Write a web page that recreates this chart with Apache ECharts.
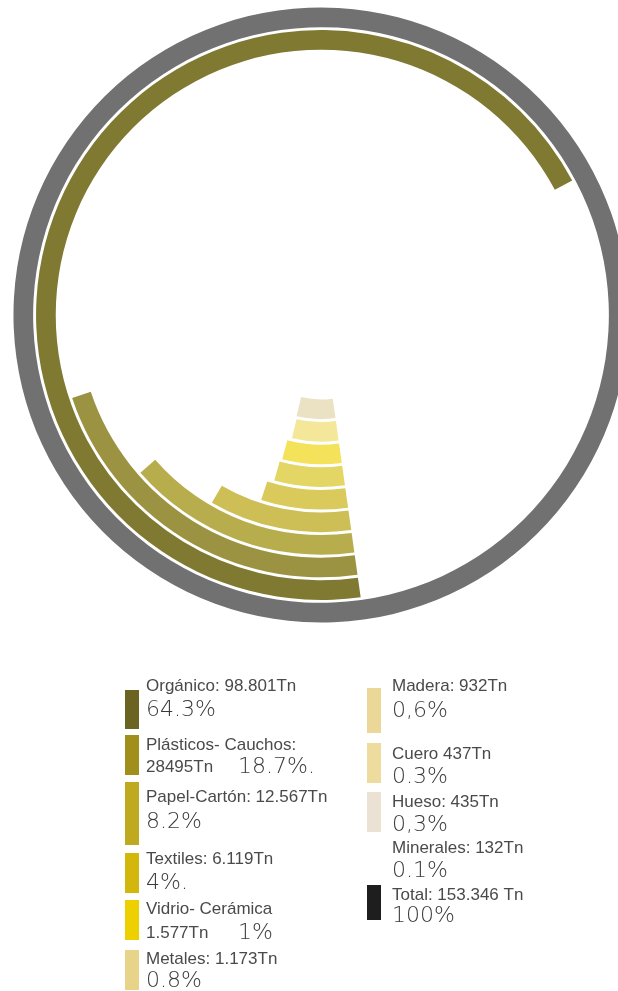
<!DOCTYPE html>
<html>
<head>
<meta charset="utf-8">
<script src="https://cdn.jsdelivr.net/npm/echarts@6/dist/echarts.min.js"></script>
<style>
html,body{margin:0;padding:0;background:#fff;}
#chart{width:618px;height:991px;}
</style>
</head>
<body>
<div id="chart"></div>
<script>
// ---- DATA ----
// ring categories, inner -> outer
const categories = ['Hueso','Cuero','Madera','Metales','Vidrio- Cerámica','Textiles','Papel-Cartón','Plásticos- Cauchos','Orgánico','Total'];
// arc length of each ring as drawn in the infographic (% of full circle)
const drawnShare = [6.0, 5.9, 6.4, 6.6, 7.2, 10.6, 15.8, 22.1, 69.4, 100];
const ringColors = ['#ebe2c4','#f4e79a','#f3e25a','#e4d664','#d9ca5b','#cdbf56','#b8ad4c','#9c9342','#7f7931','#717171'];

// legend entries
const legendLine1 = ['Orgánico: 98.801Tn','Plásticos- Cauchos:','Papel-Cartón: 12.567Tn','Textiles: 6.119Tn','Vidrio- Cerámica','Metales: 1.173Tn',
                     'Madera: 932Tn','Cuero 437Tn','Hueso: 435Tn','Minerales: 132Tn','Total: 153.346 Tn'];
const legendTons2 = ['','28495Tn','','','1.577Tn','','','','','',''];
const legendPct = ['64.3%','18.7%.','8.2%','4%.','1%','0.8%','0,6%','0.3%','0,3%','0.1%','100%'];
const swatchColors = ['#6b6322','#a08f1a','#bfa91e','#d4b70c','#eed000','#e8d488','#ebd898','#eedc9e','#ebe2d4',null,'#1e1e1e'];

// ---- LAYOUT ----
const colX = [125, 367];
const entryLayout = [
  // col, swatchTop, swatchBottom, line1 y, line2 y
  [0, 690, 729, 686, 710],
  [0, 735, 775, 745, 767],
  [0, 782, 845, 797, 822],
  [0, 853, 893, 859, 883],
  [0, 900, 940, 909, 933],
  [0, 950, 990, 959, 981],
  [1, 688, 733, 686, 711],
  [1, 743, 783, 754, 777],
  [1, 792, 832, 802, 825],
  [1, 0, 0, 848, 871],
  [1, 885, 920, 895, 916]
];
const smallFont = '17px "Liberation Sans Narrow", "Liberation Sans", sans-serif';
const bigFont = '200 22px "DejaVu Sans", sans-serif';

const graphics = [];
entryLayout.forEach((L, i) => {
  const [col, st, sb, y1, y2] = L;
  const x0 = colX[col];
  const tx = x0 + 21 + (col ? 4 : 0);
  if (swatchColors[i]) {
    graphics.push({type:'rect', left: x0, top: st, shape:{x:0,y:0,width:14,height:sb-st}, style:{fill:swatchColors[i]}});
  }
  graphics.push({type:'text', x: tx, y: y1, style:{text: legendLine1[i], font: smallFont, fill:'#4a4a4a', textVerticalAlign:'middle'}});
  let px = tx;
  if (legendTons2[i]) {
    graphics.push({type:'text', x: tx, y: y2, style:{text: legendTons2[i], font: smallFont, fill:'#4a4a4a', textVerticalAlign:'middle'}});
    px = tx + 92;
  }
  graphics.push({type:'text', x: px, y: y2, style:{text: legendPct[i], font: bigFont, fill:'#3a3a3a', textVerticalAlign:'middle'}});
});

const chart = echarts.init(document.getElementById('chart'), null, {renderer:'canvas'});
chart.setOption({
  animation: false,
  backgroundColor: '#ffffff',
  polar: { center: [321, 315], radius: [83, 309] },
  angleAxis: { type:'value', min:0, max:100, startAngle: 278, clockwise: true, show:false },
  radiusAxis: { type:'category', data: categories, show:false },
  series: [{
    type:'bar',
    coordinateSystem:'polar',
    barCategoryGap:'13%',
    data: drawnShare.map((v, i) => ({ value: v, itemStyle: { color: ringColors[i] } }))
  }],
  graphic: graphics
});
</script>
</body>
</html>
